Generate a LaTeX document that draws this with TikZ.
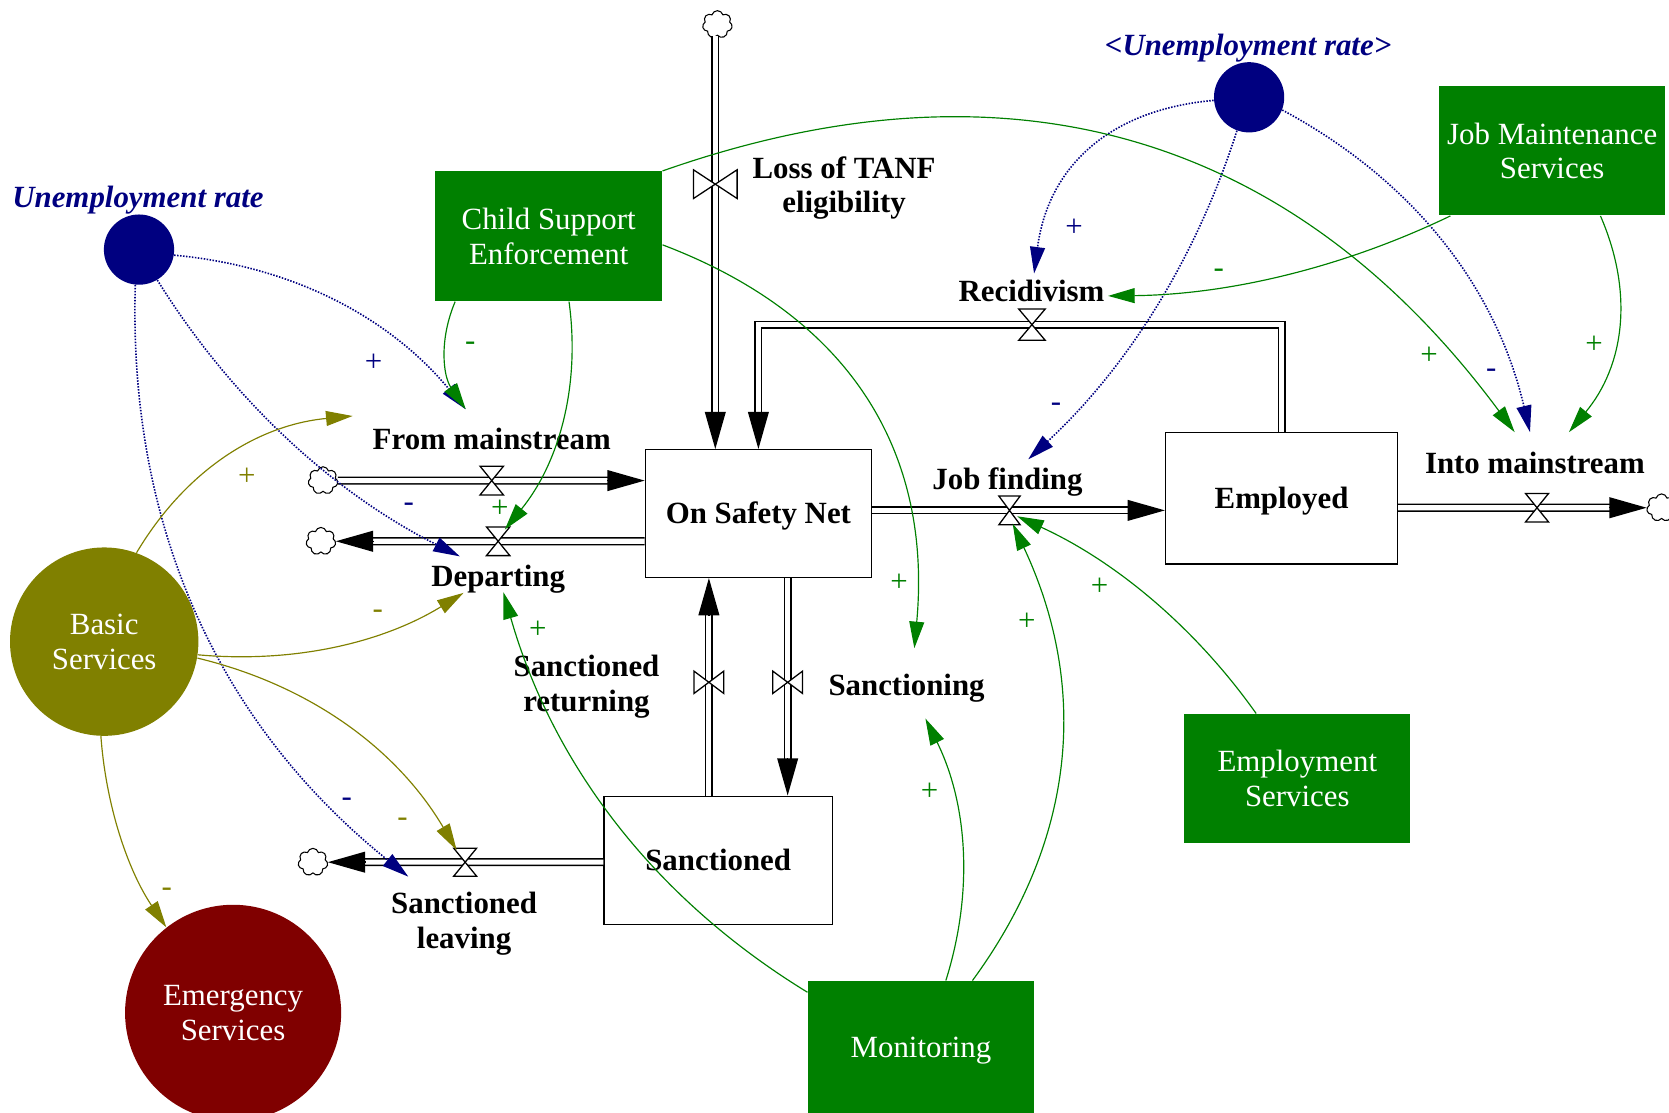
\documentclass[tikz,border=0pt]{standalone}
\usepackage{fontspec}
\setmainfont{Liberation Serif}
\usetikzlibrary{arrows.meta,calc,shapes.symbols,shapes.geometric}
\definecolor{vnavy}{RGB}{0,0,128}
\definecolor{vgreen}{RGB}{0,128,0}
\definecolor{volive}{RGB}{128,128,0}
\definecolor{vmaroon}{RGB}{128,0,0}
\newcommand\dfsize{\fontsize{14.5pt}{16.25pt}\selectfont}
\tikzset{
  pics/hvalve/.style 2 args={code={\draw[valveline] (-#1,-#2) -- (#1,-#2) -- (-#1,#2) -- (#1,#2) -- cycle;}},
  pics/vvalve/.style 2 args={code={\draw[valveline] (-#1,-#2) -- (-#1,#2) -- (#1,-#2) -- (#1,#2) -- cycle;}},
}
\begin{document}
\begin{tikzpicture}[x=0.5pt,y=-0.5pt,
  stock/.style={draw, fill=white, line width=0.6pt, inner sep=0pt, font=\bfseries\dfsize, text height=9.6pt, text depth=0pt},
  gbox/.style={fill=vgreen, text=white, inner sep=0pt, font=\dfsize, minimum width=106.25pt, minimum height=60.75pt},
  rate/.style={font=\bfseries\dfsize, inner sep=0pt, text height=9.6pt, text depth=0pt},
  rate2/.style={font=\bfseries\dfsize, inner sep=0pt, align=center},
  varlabel/.style={font=\bfseries\itshape\dfsize, text=vnavy, inner sep=0pt, text height=9.6pt, text depth=0pt},
  srccloud/.style={cloud, cloud puffs=7, aspect=1.1, draw, line width=0.5pt, minimum width=14pt, minimum height=13pt, inner sep=0pt},
  pipe/.style={draw=black, line width=0.7pt, double=white, double distance=2.4pt},
  pipetip/.style={line width=0.7pt, -{Triangle[length=17.5pt,width=9.75pt]}},
  valveline/.style={draw=black, fill=white, line width=0.6pt},
  link/.style={line width=0.55pt, -{Triangle[length=12.5pt,width=7pt]}},
  nlink/.style={link, vnavy, line width=0.75pt, dash pattern=on 0.7pt off 0.7pt},
  glink/.style={link, vgreen},
  olink/.style={link, volive},
  pol/.style={font=\dfsize, inner sep=0pt, text height=7.25pt, text depth=0pt},
]
\useasboundingbox (0,0) rectangle (1568,1045);

% stocks
\node[stock, minimum width=106.25pt, minimum height=60pt] (osn) at (712.5,482.5) {On Safety Net};
\node[stock, minimum width=109pt, minimum height=61.8pt] (emp) at (1204,468) {Employed};
\node[stock, minimum width=107.25pt, minimum height=60.3pt] (san) at (674.75,808.3) {Sanctioned};

% policy levers
\node[gbox, align=center, minimum width=106.5pt, minimum height=61pt] (cse) at (515.5,222) {Child Support\\Enforcement};
\node[gbox, align=center] (jms) at (1458.25,141.7) {Job Maintenance\\Services};
\node[gbox, align=center] (ems) at (1218.8,731.5) {Employment\\Services};
\node[gbox, text height=9.6pt, text depth=0pt, minimum height=62pt] (mon) at (865.25,983.6) {Monitoring};

% exogenous variables and service circles
\node[circle, fill=vnavy, minimum size=33pt, inner sep=0pt] (ur1) at (130.6,234.5) {};
\node[circle, fill=vnavy, minimum size=33pt, inner sep=0pt] (ur2) at (1173.5,91.4) {};
\node[varlabel] (ur1l) at (129.6,185.8) {Unemployment rate};
\node[varlabel] (ur2l) at (1172.6,43) {<Unemployment rate>};
\node[circle, fill=volive, text=white, minimum size=88.5pt, inner sep=0pt, font=\dfsize, align=center] (bas) at (97.9,602.8) {Basic\\Services};
\node[circle, fill=vmaroon, text=white, minimum size=101.5pt, inner sep=0pt, font=\dfsize, align=center] (eme) at (219,951.5) {Emergency\\Services};

% sources and sinks
\node[srccloud] (ctop) at (674,23) {};
\node[srccloud] (cfm) at (303.5,451.5) {};
\node[srccloud] (cdep) at (301.5,508.5) {};
\node[srccloud] (csl) at (294,810) {};
\node[srccloud] (cim) at (1561,477) {};

% valve positions
\coordinate (lossv) at (672,173);
\coordinate (fmv) at (462,451.5);
\coordinate (depv) at (468,508.5);
\coordinate (recv) at (969.5,305);
\coordinate (jfv) at (948.4,479.5);
\coordinate (imv) at (1444,477);
\coordinate (sretv) at (666,641);
\coordinate (sancv) at (740,641);
\coordinate (slv) at (437,810);

% pipes
\draw[pipe] (ctop.south -| lossv) -- ($(osn.north -| lossv)+(0,-32)$);
\draw[pipetip] ($(osn.north -| lossv)+(0,-35)$) -- (osn.north -| lossv);
\draw[pipe] (emp.north) |- (recv) -| ($(osn.north)+(0,-32)$);
\draw[pipetip] ($(osn.north)+(0,-35)$) -- (osn.north);
\draw[pipe] (cfm.east) -- ($(osn.west |- cfm)+(-32,0)$);
\draw[pipetip] ($(osn.west |- cfm)+(-35,0)$) -- (osn.west |- cfm);
\draw[pipe] (osn.west |- cdep) -- ($(cdep.east)+(32,0)$);
\draw[pipetip] ($(cdep.east)+(35,0)$) -- (cdep.east);
\draw[pipe] (osn.east |- jfv) -- ($(emp.west |- jfv)+(-32,0)$);
\draw[pipetip] ($(emp.west |- jfv)+(-35,0)$) -- (emp.west |- jfv);
\draw[pipe] (emp.east |- imv) -- ($(cim.west)+(-32,0)$);
\draw[pipetip] ($(cim.west)+(-35,0)$) -- (cim.west);
\draw[pipe] (san.north -| sretv) -- ($(osn.south -| sretv)+(0,32)$);
\draw[pipetip] ($(osn.south -| sretv)+(0,35)$) -- (osn.south -| sretv);
\draw[pipe] (osn.south -| sancv) -- ($(san.north -| sancv)+(0,-32)$);
\draw[pipetip] ($(san.north -| sancv)+(0,-35)$) -- (san.north -| sancv);
\draw[pipe] (san.west |- slv) -- ($(csl.east)+(32,0)$);
\draw[pipetip] ($(csl.east)+(35,0)$) -- (csl.east);

% valves
\pic at (lossv) {vvalve={20.5}{13.5}};
\pic at (sretv) {vvalve={14}{10.5}};
\pic at (sancv) {vvalve={14}{10.5}};
\pic at (fmv) {hvalve={11}{13.5}};
\pic at (depv) {hvalve={11}{13.5}};
\pic at (recv) {hvalve={12.5}{14.75}};
\pic at (jfv) {hvalve={10}{13.5}};
\pic at (imv) {hvalve={10.75}{13.3}};
\pic at (slv) {hvalve={10.8}{13.2}};

% flow names
\node[rate2] (lossl) at (793,176.5) {Loss of TANF\\eligibility};
\node[rate] (fml) at (462,413) {From mainstream};
\node[rate] (depl) at (468,541) {Departing};
\node[rate] (recl) at (969,274) {Recidivism};
\node[rate] (jfl) at (946.5,450) {Job finding};
\node[rate] (iml) at (1442,435) {Into mainstream};
\node[rate2] (sretl) at (551,645) {Sanctioned\\returning};
\node[rate] (sancl) at (851.7,644) {Sanctioning};
\node[rate2] (sll) at (436,868) {Sanctioned\\leaving};

% unemployment links
\draw[nlink] (ur1.-9) .. controls (275.3,250.1) and (365.9,298.2) .. ($(fmv)+(-24.5,-67)$);
\draw[nlink] (ur1.-59) .. controls (218.3,376.3) and (313,462.7) .. ($(depv)+(-36,14.2)$);
\draw[nlink] (ur1.-96) .. controls (120.4,496.1) and (206.1,681.1) .. ($(slv)+(-53.4,13.6)$);
\draw[nlink] (ur2.185) .. controls (1041,103.1) and (984.6,157.5) .. ($(recv)+(2,-48)$);
\draw[nlink] (ur2.-110) .. controls (1123.5,243.7) and (1058.3,346.1) .. ($(jfv)+(17.6,-48)$);
\draw[nlink] (ur2.-21) .. controls (1328.4,169.7) and (1405.6,270.4) .. ($(imv)+(-6.6,-71)$);

% service links
\draw[glink] ($(cse.south west)+(19,0)$) .. controls (412.6,318.7) and (416,352.8) .. ($(fmv)+(-24.5,-67)$);
\draw[glink] ($(cse.south west)+(126,0)$) .. controls (545.4,363.2) and (525.2,434.7) .. ($(depv)+(6.3,-11)$);
\draw[glink] (cse.north east) .. controls (948.9,45.7) and (1215.9,126.7) .. ($(imv)+(-21,-71)$);
\draw[glink] ($(cse.east)+(0,8)$) .. controls (796.9,296.1) and (876,422.5) .. ($(sancv)+(119,-32)$);
\draw[glink] ($(jms.south west)+(11,0)$) .. controls (1261.3,251.6) and (1154,276.8) .. ($(recv)+(71.5,-27)$);
\draw[glink] ($(jms.south west)+(152,0)$) .. controls (1535.5,276.3) and (1525.5,344) .. ($(imv)+(30,-71)$);
\draw[glink] ($(ems.north west)+(68,0)$) .. controls (1122.4,588.8) and (1047.3,526.9) .. ($(jfv)+(7.2,5.5)$);
\draw[glink] ($(mon.north west)+(155,0)$) .. controls (1012.8,785.9) and (1022,642.7) .. ($(jfv)+(3,12.5)$);
\draw[glink] ($(mon.north west)+(130,0)$) .. controls (915.1,836.9) and (908.7,754.7) .. ($(sancv)+(129.4,34)$);
\draw[glink] ($(mon.north west)+(0,11)$) .. controls (614.9,844.3) and (519.5,719) .. ($(depv)+(5,48)$);
\draw[olink] (bas.70) .. controls (174.5,441.8) and (242.1,399.2) .. ($(fmv)+(-130.7,-60.7)$);
\draw[olink] (bas.-8) .. controls (275.8,623.3) and (358.9,604) .. ($(depv)+(-32.5,48.5)$);
\draw[olink] (bas.-10) .. controls (292,643.9) and (373.2,704.1) .. ($(slv)+(-8,-11.4)$);
\draw[olink] (bas.-92) .. controls (99.6,757.6) and (120.5,818.2) .. (eme.128);

% link polarities
\node[pol, text=vnavy] (p1) at (351,342) {+};
\node[pol, text=vnavy] (p2) at (384,473.5) {-};
\node[pol, text=vnavy] (p3) at (325.7,750.8) {-};
\node[pol, text=vnavy] (p4) at (1009,214.7) {+};
\node[pol, text=vnavy] (p5) at (992,379.5) {-};
\node[pol, text=vnavy] (p6) at (1401,347) {-};
\node[pol, text=vgreen] (p7) at (441.8,322) {-};
\node[pol, text=vgreen] (p8) at (469.5,479) {+};
\node[pol, text=vgreen] (p9) at (1342.6,335) {+};
\node[pol, text=vgreen] (p10) at (844.6,548.7) {+};
\node[pol, text=vgreen] (p11) at (1145,253.5) {-};
\node[pol, text=vgreen] (p12) at (1497.6,324.7) {+};
\node[pol, text=vgreen] (p13) at (1033,552) {+};
\node[pol, text=vgreen] (p14) at (964.6,584.8) {+};
\node[pol, text=vgreen] (p15) at (873.3,745) {+};
\node[pol, text=vgreen] (p16) at (505.3,592.8) {+};
\node[pol, text=volive] (p17) at (232,449) {+};
\node[pol, text=volive] (p18) at (355,573.8) {-};
\node[pol, text=volive] (p19) at (378.2,769.3) {-};
\node[pol, text=volive] (p20) at (156.6,835) {-};
\end{tikzpicture}
\end{document}
